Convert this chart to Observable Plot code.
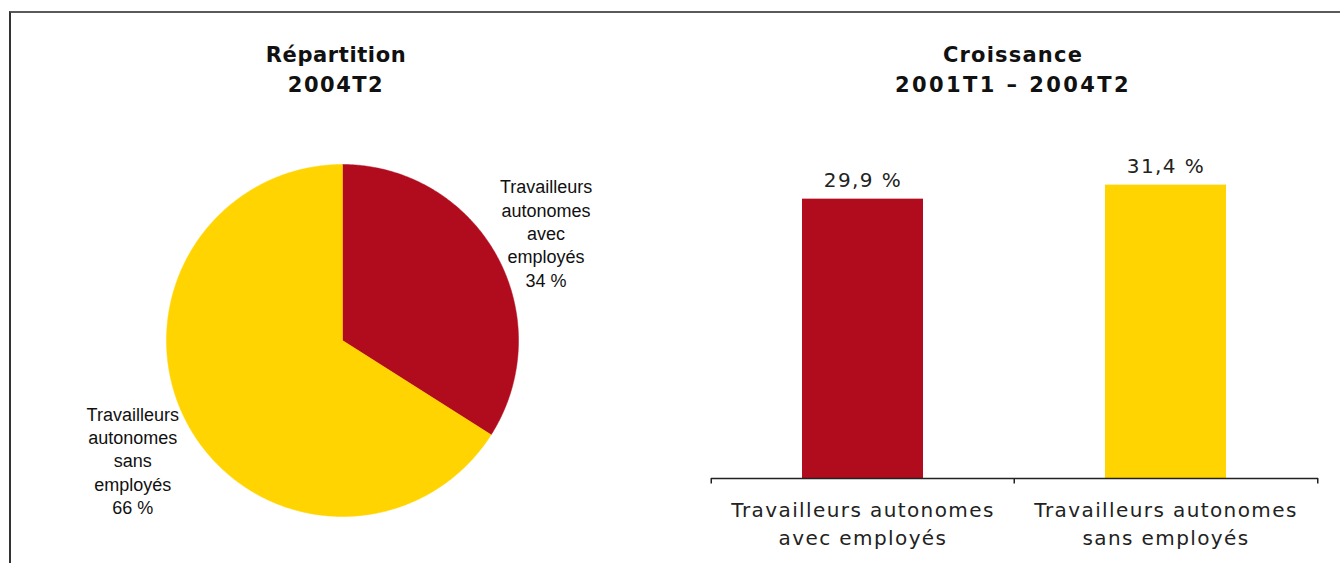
<!DOCTYPE html>
<html>
<head>
<meta charset="utf-8">
<script src="https://cdn.jsdelivr.net/npm/d3@7"></script>
<script src="https://cdn.jsdelivr.net/npm/@observablehq/plot@0.6"></script>
<style>
  html, body { margin: 0; padding: 0; background: #fff; }
  #page { position: relative; width: 1340px; height: 563px; overflow: hidden; background: #fff; }
  .title { position: absolute; top: 40px; width: 500px; text-align: center; font-family: "DejaVu Sans", sans-serif; font-weight: bold; font-size: 21px; line-height: 30px; color: #111; }
  #frame { position: absolute; left: 9px; top: 11px; width: 1340px; height: 560px; border-top: 2px solid #5a5a5a; border-left: 2px solid #333; z-index: 10; pointer-events: none; }
  #pie { position: absolute; left: 0; top: 110px; }
  #bars { position: absolute; left: 680px; top: 110px; }
</style>
</head>
<body>
<div id="page">
  <div class="title" style="left:86px;"><span style="letter-spacing:0.6px">Répartition</span><br><span style="letter-spacing:1.5px">2004T2</span></div>
  <div class="title" style="left:763px;"><span style="letter-spacing:1.2px">Croissance</span><br><span style="letter-spacing:2.4px">2001T1 – 2004T2</span></div>
  <div id="pie"></div>
  <div id="bars"></div>
  <div id="frame"></div>
</div>
<script>
// ---- Data ----
const pieCategories = ["Travailleurs autonomes avec employés", "Travailleurs autonomes sans employés"];
const pieShares = [34, 66];
const pieLabels = ["Travailleurs\nautonomes\navec\nemployés\n34 %", "Travailleurs\nautonomes\nsans\nemployés\n66 %"];

const barCategories = ["Travailleurs autonomes avec employés", "Travailleurs autonomes sans employés"];
const barValues = [29.9, 31.4];
const barValueLabels = ["29,9 %", "31,4 %"];
const barTickLabels = ["Travailleurs autonomes\navec employés", "Travailleurs autonomes\nsans employés"];

const colors = ["#B00C1E", "#FFD400"];

// ---- Pie ----
const arcs = d3.pie().sort(null).value(d => d)(pieShares);
const slices = arcs.map((a, i) => {
  const pts = [{x: 0, y: 0}];
  const n = Math.max(2, Math.ceil((a.endAngle - a.startAngle) / (Math.PI / 360)));
  for (let k = 0; k <= n; k++) {
    const t = a.startAngle + (a.endAngle - a.startAngle) * k / n;
    pts.push({x: Math.sin(t), y: Math.cos(t)});
  }
  pts.push({x: 0, y: 0});
  return {cat: pieCategories[i], pts};
});
const labelData = arcs.map((a, i) => {
  const m = (a.startAngle + a.endAngle) / 2;
  const r = i === 0 ? 1.32 : 1.36;
  return {x: r * Math.sin(m), y: r * Math.cos(m), label: pieLabels[i]};
});

const pie = Plot.plot({
  width: 680, height: 453,
  marginLeft: 166, marginRight: 162, marginTop: 54, marginBottom: 47,
  x: {domain: [-1, 1], axis: null},
  y: {domain: [-1, 1], axis: null},
  style: {background: "transparent", fontFamily: "'Liberation Sans', Arial, sans-serif", fontSize: "18px", color: "#111", overflow: "visible"},
  marks: [
    ...slices.map((s, i) => Plot.line(s.pts, {x: "x", y: "y", fill: colors[i], stroke: colors[i], strokeWidth: 0.5, curve: "linear"})),
    Plot.text(labelData, {x: "x", y: "y", text: "label", lineHeight: 1.3, textAnchor: "middle", dy: 4, fill: "#111", fontSize: 18})
  ]
});
document.getElementById("pie").appendChild(pie);

// ---- Bars ----
const barData = barCategories.map((c, i) => ({cat: c, value: barValues[i], vlabel: barValueLabels[i], tlabel: barTickLabels[i], color: colors[i]}));
const step = (660 - 31 - 22) / barCategories.length;

const bars = Plot.plot({
  width: 660, height: 453,
  marginLeft: 31, marginRight: 22, marginTop: 41, marginBottom: 85,
  x: {domain: barCategories, paddingInner: 0.6, paddingOuter: 0.3, axis: null},
  y: {domain: [0, 35], axis: null},
  style: {background: "transparent", fontFamily: "'DejaVu Sans', Verdana, sans-serif", fontSize: "20px", color: "#222", overflow: "visible", letterSpacing: "1.4px"},
  marks: [
    Plot.barY(barData, {x: "cat", y: "value", fill: "color"}),
    Plot.ruleY([0], {stroke: "#222", strokeWidth: 1.5}),
    Plot.ruleX(barData, {x: "cat", y1: 0, y2: -0.6, dx: -step / 2, stroke: "#222", strokeWidth: 1.5}),
    Plot.ruleX(barData.slice(-1), {x: "cat", y1: 0, y2: -0.6, dx: step / 2, stroke: "#222", strokeWidth: 1.5}),
    Plot.text(barData, {x: "cat", y: "value", text: "vlabel", dy: -19, fontSize: 20, fill: "#222"}),
    Plot.text(barData, {x: "cat", y: 0, text: "tlabel", lineAnchor: "top", dy: 19, lineHeight: 1.4, fontSize: 20, fill: "#222"})
  ]
});
document.getElementById("bars").appendChild(bars);
</script>
</body>
</html>
